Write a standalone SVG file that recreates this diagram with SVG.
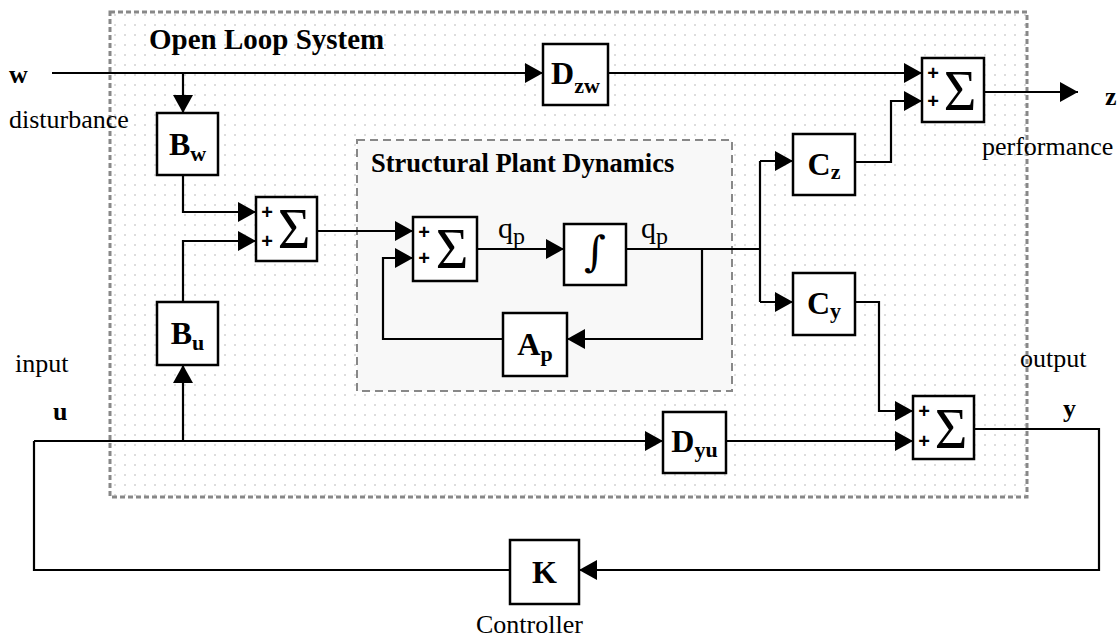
<svg xmlns="http://www.w3.org/2000/svg" width="1120" height="640" viewBox="0 0 1120 640">
<defs>
<pattern id="dots" width="10" height="10" patternUnits="userSpaceOnUse">
<circle cx="5" cy="5" r="1" fill="#d2d2d2"/>
</pattern>
<marker id="ah" markerUnits="userSpaceOnUse" markerWidth="18" markerHeight="20" refX="18" refY="10" orient="auto">
<path d="M0,0 L18,10 L0,20 Z" fill="#000"/>
</marker>
<style>
.blk{fill:#fff;stroke:#000;stroke-width:2.5}
.ln{fill:none;stroke:#000;stroke-width:2.2}
.arr{marker-end:url(#ah)}
.t{font-family:"Liberation Serif","Times New Roman",serif;fill:#000}
.b{font-weight:bold}
.lab{font-size:32px;font-weight:bold;text-anchor:middle}
.sub{font-size:22px}
.sig{font-size:56px;text-anchor:middle}
.pl{font-family:"Liberation Sans",Arial,sans-serif;font-size:20px;font-weight:bold;text-anchor:middle}
.txt{font-size:26px}
</style>
</defs>
<rect width="1120" height="640" fill="#fff"/>
<g id="open-loop-system">
<rect x="110" y="12" width="917" height="485" fill="url(#dots)" stroke="#888" stroke-width="3" stroke-dasharray="5 3"/>
<text class="t b" x="149" y="49" font-size="29">Open Loop System</text>
</g>
<g id="structural-plant">
<rect x="357" y="140" width="375" height="251" fill="#f8f8f8" stroke="#888" stroke-width="2" stroke-dasharray="8 5"/>
<text class="t b" x="371" y="172" font-size="26.5">Structural Plant Dynamics</text>
</g>
<g id="connectors">
<path class="ln arr" d="M52,73 H543"/>
<path class="ln arr" d="M183,73 V113"/>
<path class="ln arr" d="M183,175 V212 H256"/>
<path class="ln arr" d="M183,441 V365"/>
<path class="ln arr" d="M183,302 V241 H256"/>
<path class="ln arr" d="M317,231 H413"/>
<path class="ln arr" d="M477,249 H564"/>
<path class="ln" d="M626,249 H760"/>
<path class="ln arr" d="M702,249 V339 H567"/>
<path class="ln arr" d="M503,339 H383 V258 H413"/>
<path class="ln" d="M760,161 V302"/>
<path class="ln arr" d="M760,161 H793"/>
<path class="ln arr" d="M760,302 H793"/>
<path class="ln arr" d="M855,162 H891 V101 H922"/>
<path class="ln arr" d="M608,73 H922"/>
<path class="ln arr" d="M984,92 H1078"/>
<path class="ln arr" d="M855,302 H879 V411 H913"/>
<path class="ln arr" d="M34,441 H663"/>
<path class="ln arr" d="M726,441 H913"/>
<path class="ln arr" d="M974,429 H1099 V570 H579"/>
<path class="ln" d="M510,570 H34 V441"/>
</g>
<g id="Bw">
<rect class="blk" x="157" y="113" width="61" height="62"/>
<text class="t lab" x="187.5" y="155">B<tspan class="sub" dy="6">w</tspan></text>
</g>
<g id="Bu">
<rect class="blk" x="157" y="302" width="61" height="63"/>
<text class="t lab" x="187.5" y="344">B<tspan class="sub" dy="6">u</tspan></text>
</g>
<g id="sum1">
<rect class="blk" x="256" y="197" width="61" height="64"/>
<text class="t pl" x="267" y="219">+</text>
<text class="t pl" x="267" y="248">+</text>
<text class="t sig" x="294" y="248">Σ</text>
</g>
<g id="sum2">
<rect class="blk" x="413" y="217" width="64" height="64"/>
<text class="t pl" x="424" y="239">+</text>
<text class="t pl" x="424" y="265">+</text>
<text class="t sig" x="452" y="268">Σ</text>
</g>
<g id="qp1">
<text class="t" x="498" y="238" font-size="30">q<tspan font-size="24" dy="6">p</tspan></text>
</g>
<g id="integrator">
<rect class="blk" x="564" y="224" width="62" height="61"/>
<text x="595" y="266" font-size="42" text-anchor="middle" font-family="'DejaVu Serif',serif" font-weight="normal">∫</text>
</g>
<g id="qp2">
<text class="t" x="641" y="238" font-size="30">q<tspan font-size="24" dy="6">p</tspan></text>
</g>
<g id="Ap">
<rect class="blk" x="503" y="313" width="64" height="63"/>
<text class="t lab" x="535" y="355">A<tspan class="sub" dy="6">p</tspan></text>
</g>
<g id="Dzw">
<rect class="blk" x="543" y="44" width="65" height="61"/>
<text class="t lab" x="575.5" y="84">D<tspan class="sub" dy="9">zw</tspan></text>
</g>
<g id="Cz">
<rect class="blk" x="793" y="134" width="62" height="61"/>
<text class="t lab" x="824" y="175">C<tspan class="sub" dy="4">z</tspan></text>
</g>
<g id="Cy">
<rect class="blk" x="793" y="273" width="62" height="62"/>
<text class="t lab" x="824" y="314">C<tspan class="sub" dy="4">y</tspan></text>
</g>
<g id="sumz">
<rect class="blk" x="922" y="58" width="62" height="64"/>
<text class="t pl" x="933" y="80">+</text>
<text class="t pl" x="933" y="108">+</text>
<text class="t sig" x="960" y="110">Σ</text>
</g>
<g id="Dyu">
<rect class="blk" x="663" y="412" width="63" height="61"/>
<text class="t lab" x="694.5" y="452">D<tspan class="sub" dy="5">yu</tspan></text>
</g>
<g id="sumy">
<rect class="blk" x="913" y="396" width="61" height="63"/>
<text class="t pl" x="924" y="418">+</text>
<text class="t pl" x="924" y="448">+</text>
<text class="t sig" x="951" y="448">Σ</text>
</g>
<g id="K">
<rect class="blk" x="510" y="540" width="69" height="64"/>
<text class="t lab" x="544.5" y="583">K</text>
<text class="t txt" x="476" y="633">Controller</text>
</g>
<g id="labels">
<text class="t b txt" x="9" y="83">w</text>
<text class="t txt" x="9" y="128">disturbance</text>
<text class="t b txt" x="1105" y="105">z</text>
<text class="t txt" x="982" y="155">performance</text>
<text class="t txt" x="15" y="372">input</text>
<text class="t b txt" x="53" y="420">u</text>
<text class="t txt" x="1020" y="367">output</text>
<text class="t b txt" x="1063" y="417">y</text>
</g>
</svg>
